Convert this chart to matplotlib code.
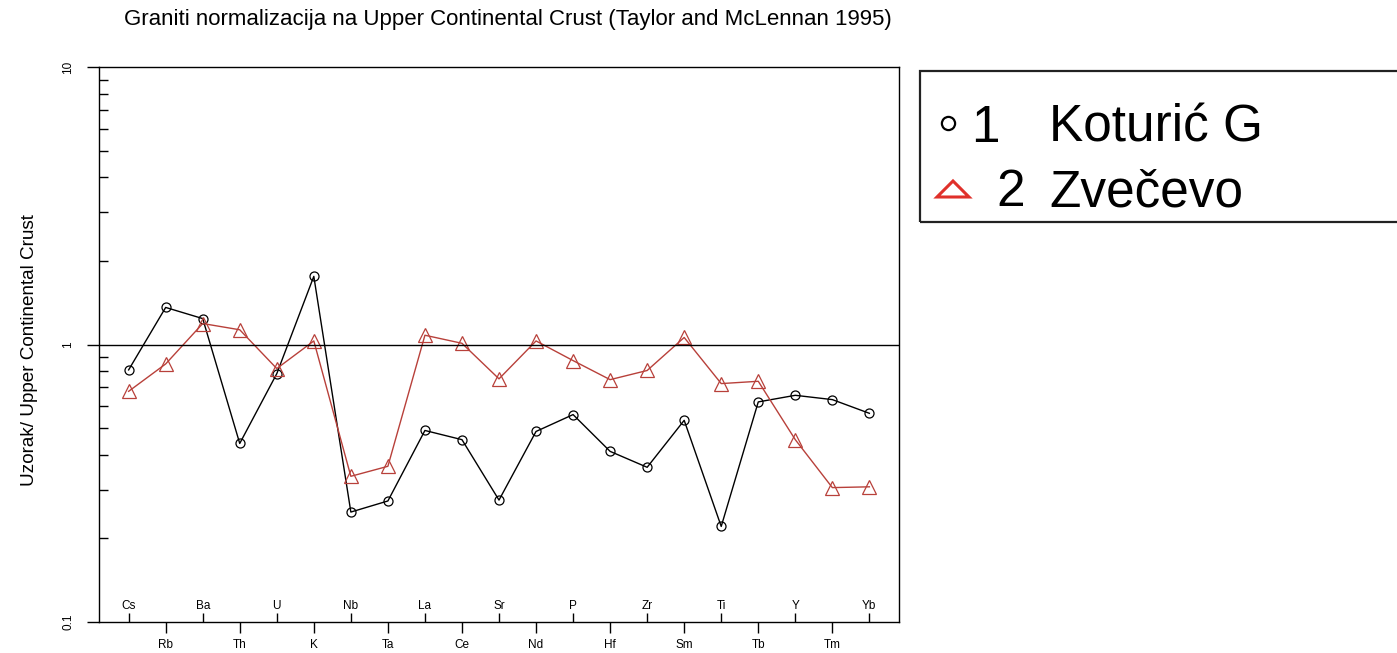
import numpy as np
import matplotlib
matplotlib.use("Agg")
import matplotlib.pyplot as plt
from matplotlib.lines import Line2D
from matplotlib.patches import Rectangle, Polygon

plt.rcParams['font.family'] = ['Liberation Sans', 'DejaVu Sans']

elements = ["Cs", "Rb", "Ba", "Th", "U", "K", "Nb", "Ta", "La", "Ce", "Sr",
            "Nd", "P", "Hf", "Zr", "Sm", "Ti", "Tb", "Y", "Tm", "Yb"]
koturic = [0.81, 1.36, 1.24, 0.44, 0.785, 1.76, 0.249, 0.273, 0.49, 0.454, 0.275,
           0.486, 0.559, 0.412, 0.361, 0.533, 0.221, 0.621, 0.656, 0.633, 0.565]
zvecevo = [0.678, 0.851, 1.19, 1.13, 0.819, 1.03, 0.335, 0.364, 1.08, 1.01, 0.752,
           1.03, 0.875, 0.747, 0.806, 1.06, 0.723, 0.737, 0.454, 0.305, 0.307]
legend_labels = ["Koturić G", "Zvečevo"]

W, H = 1397, 653
fig = plt.figure(figsize=(W / 100, H / 100), dpi=100)
ax = fig.add_axes([99 / W, 1 - 622 / H, (899 - 99) / W, (622 - 67) / H])

x = np.arange(len(elements))
red = "#b8403a"
ax.plot(x, koturic, color="black", lw=1, marker="o", ms=6.5, mfc="none",
        mec="black", mew=0.9)
ax.plot(x, zvecevo, color=red, lw=1, marker="^", ms=9.5, mfc="none",
        mec=red, mew=0.9)
ax.axhline(1, color="black", lw=1)

ax.set_yscale("log")
ax.set_ylim(0.1, 10)
ax.set_xlim(-0.8, len(elements) - 1 + 0.8)

# y axis: major ticks outside with rotated labels, minor ticks inside
ax.set_yticks([0.1, 1, 10], ["0.1", "1", "10"])
ax.yaxis.set_minor_locator(matplotlib.ticker.LogLocator(base=10, subs=np.arange(2, 10)))
ax.yaxis.set_minor_formatter(matplotlib.ticker.NullFormatter())
ax.tick_params(axis="y", which="major", direction="out", length=9, width=1,
               pad=9, labelsize=8.5, labelrotation=90)
ax.tick_params(axis="y", which="minor", direction="in", length=6.5, width=1)
for lab in ax.get_yticklabels():
    lab.set_va("center")

# x axis: alternating labels above (inside) and below (outside)
ax.set_xticks(x[::2], elements[::2])
ax.set_xticks(x[1::2], elements[1::2], minor=True)
ax.tick_params(axis="x", which="major", direction="in", length=6.5, width=1,
               pad=-16, labelsize=8.5)
ax.tick_params(axis="x", which="minor", direction="out", length=8, width=1,
               pad=4.5, labelsize=8.5)

for s in ax.spines.values():
    s.set_linewidth(1)
    s.set_color("black")

fig.text(508 / W, 1 - 20 / H,
         "Graniti normalizacija na Upper Continental Crust (Taylor and McLennan 1995)",
         ha="center", va="center", fontsize=16)
fig.text(30 / W, 1 - 350 / H, "Uzorak/ Upper Continental Crust", rotation=90,
         ha="center", va="center", fontsize=13.6)

# legend box
fig.add_artist(Rectangle((920 / W, 1 - 222 / H), (W + 10 - 920) / W, (222 - 71) / H,
                         transform=fig.transFigure, fill=False, ec="#222222", lw=1.6))
fig.add_artist(Line2D([948 / W], [1 - 123 / H], marker="o", ms=9.5, mfc="none",
                      mec="black", mew=1.6, transform=fig.transFigure))
tri = np.array([[937, 197], [953, 181], [969, 197]], dtype=float)
tri[:, 0] /= W
tri[:, 1] = 1 - tri[:, 1] / H
fig.add_artist(Polygon(tri, closed=True, fill=False, ec="#e0302a", lw=2.2,
                       transform=fig.transFigure))
fig.text(971 / W, 1 - 141.5 / H, "1", ha="left", va="baseline", fontsize=37)
fig.text(996 / W, 1 - 206.5 / H, "2", ha="left", va="baseline", fontsize=37)
fig.text(1049 / W, 1 - 141.5 / H, legend_labels[0], ha="left", va="baseline", fontsize=37)
fig.text(1049 / W, 1 - 206.5 / H, legend_labels[1], ha="left", va="baseline", fontsize=37)

fig.savefig("out.png", dpi=100)
